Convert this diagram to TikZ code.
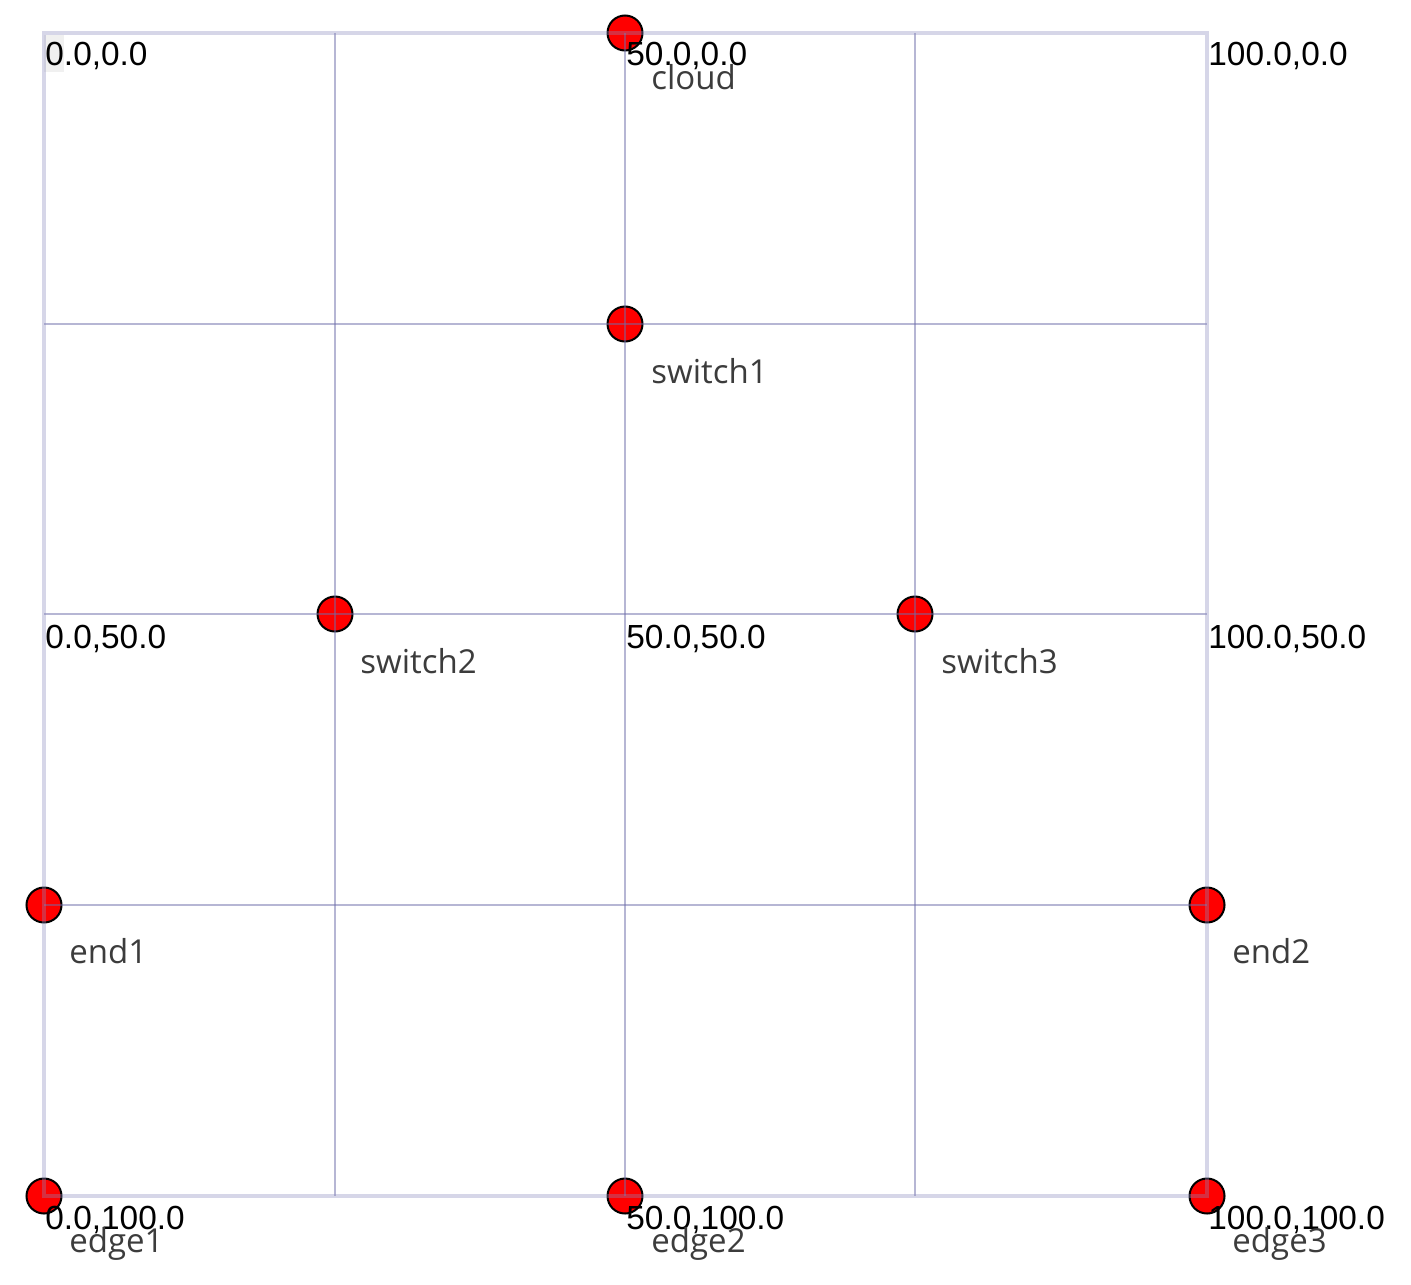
\documentclass[tikz,border=0pt]{standalone}
\usepackage{fontspec}
\setmainfont{Liberation Sans}
\newfontfamily\lblfont{Open Sans}
\definecolor{gridc}{RGB}{110,110,170}
\definecolor{borderc}{RGB}{140,140,190}
\definecolor{lblc}{RGB}{60,60,60}
\begin{document}
\begin{tikzpicture}[x=0.5pt,y=-0.5pt,
  devnode/.style={circle,draw=black,line width=1pt,fill=red,minimum size=17.5pt,inner sep=0pt},
  coordlbl/.style={anchor=base west,inner sep=0pt,font=\fontsize{16.7pt}{18pt}\selectfont,text=black},
  namelbl/.style={anchor=base west,inner sep=0pt,font=\lblfont\fontsize{16.5pt}{18pt}\selectfont,text=lblc},
  gridline/.style={draw=gridc,line width=0.8pt,opacity=0.5},
  borderline/.style={draw=borderc,line width=2pt,opacity=0.35}]
\useasboundingbox (0,0) rectangle (1411,1284);
\fill[white] (0,0) rectangle (1411,1284);
% small grey patch
\fill[gray!12] (44,35) rectangle (64,72);
% device nodes
\node[devnode] (cloud) at (625,33) {};
\node[devnode] (switch1) at (625,324) {};
\node[devnode] (switch2) at (335,614) {};
\node[devnode] (switch3) at (915,614) {};
\node[devnode] (end1) at (44,905) {};
\node[devnode] (end2) at (1207,905) {};
\node[devnode] (edge1) at (44,1196) {};
\node[devnode] (edge2) at (625,1196) {};
\node[devnode] (edge3) at (1207,1196) {};
% grid
\foreach \v in {335,625,915} {
  \draw[gridline] (\v,33) -- (\v,1196);
}
\foreach \v in {324,614,905} {
  \draw[gridline] (44,\v) -- (1207,\v);
}
\draw[borderline] (44,33) rectangle (1207,1196);
% coordinate labels
\node[coordlbl] (c00) at (45,66) {0.0,0.0};
\node[coordlbl] (c500) at (626,66) {50.0,0.0};
\node[coordlbl] (c1000) at (1208,66) {100.0,0.0};
\node[coordlbl] (c050) at (45,648) {0.0,50.0};
\node[coordlbl] (c5050) at (626,648) {50.0,50.0};
\node[coordlbl] (c10050) at (1208,648) {100.0,50.0};
\node[coordlbl] (c0100) at (45,1229) {0.0,100.0};
\node[coordlbl] (c50100) at (626,1229) {50.0,100.0};
\node[coordlbl] (c100100) at (1208,1229) {100.0,100.0};
% name labels
\node[namelbl] (lcloud) at (651,90) {cloud};
\node[namelbl] (lswitch1) at (651,383) {switch1};
\node[namelbl] (lswitch2) at (360,673) {switch2};
\node[namelbl] (lswitch3) at (941,673) {switch3};
\node[namelbl] (lend1) at (69,963) {end1};
\node[namelbl] (lend2) at (1232,963) {end2};
\node[namelbl] (ledge1) at (69,1252) {edge1};
\node[namelbl] (ledge2) at (651,1252) {edge2};
\node[namelbl] (ledge3) at (1232,1252) {edge3};
\end{tikzpicture}
\end{document}
